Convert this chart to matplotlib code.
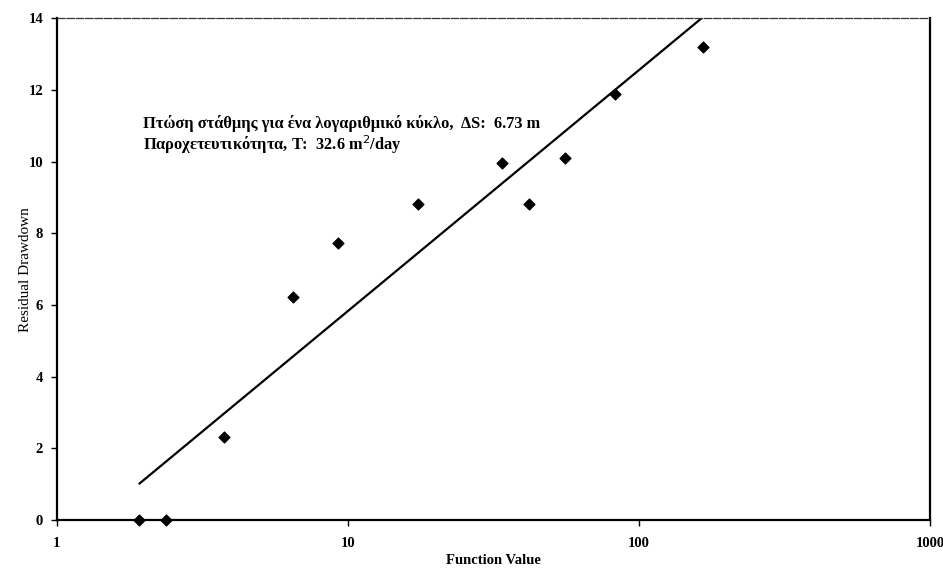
import matplotlib.pyplot as plt
from matplotlib.ticker import FixedLocator, FixedFormatter, NullLocator

plt.rcParams['font.family'] = ['Liberation Serif', 'DejaVu Serif']

# measured points (function value, residual drawdown)
func_value = [1.91, 2.37, 3.75, 6.47, 9.24, 17.4, 33.8, 41.9, 55.7, 82.7, 166]
drawdown = [0.0, 0.0, 2.31, 6.22, 7.72, 8.81, 9.95, 8.81, 10.1, 11.88, 13.19]

# fitted straight line (semi-log)
line_x = [1.91, 164]
line_y = [1.0, 14.0]

x_ticks = [1, 10, 100, 1000]
x_labels = ['1', '10', '100', '1000']
y_ticks = [0, 2, 4, 6, 8, 10, 12, 14]

fig = plt.figure(figsize=(9.43, 5.68), dpi=100)
ax = fig.add_axes([0.0604, 0.0845, 0.926, 0.8835])

ax.plot(line_x, line_y, color='black', linewidth=1.6, solid_capstyle='butt')
ax.scatter(func_value, drawdown, marker='D', s=30, color='black', zorder=3, clip_on=False)

ax.set_xscale('log')
ax.set_xlim(1, 1000)
ax.set_ylim(0, 14)
ax.xaxis.set_major_locator(FixedLocator(x_ticks))
ax.xaxis.set_major_formatter(FixedFormatter(x_labels))
ax.xaxis.set_minor_locator(NullLocator())
ax.set_yticks(y_ticks)

for lab in ax.get_xticklabels() + ax.get_yticklabels():
    lab.set_fontweight('bold')
    lab.set_fontsize(10.5)
ax.tick_params(axis='x', length=4, width=1, pad=8)
ax.tick_params(axis='y', length=4, width=1, pad=6)

for side in ['left', 'bottom', 'right']:
    ax.spines[side].set_linewidth(1.6)
ax.spines['top'].set_linewidth(0.9)
ax.spines['top'].set_linestyle((0, (6, 1.5)))
ax.spines['top'].set_color('#333333')

ax.set_xlabel('Function Value', fontsize=10.5, fontweight='bold', labelpad=3)
ax.set_ylabel('Residual Drawdown', fontsize=11, labelpad=-3)

ax.text(0.0985, 0.781, 'Πτώση στάθμης για ένα λογαριθμικό κύκλο,  ΔS:  6.73 m',
        transform=ax.transAxes, fontsize=11.8, fontweight='bold')
ax.text(0.0985, 0.737, 'Παροχετευτικότητα, T:  32.6 m$^2$/day',
        transform=ax.transAxes, fontsize=11.8, fontweight='bold')

fig.savefig('out.png', dpi=100)
